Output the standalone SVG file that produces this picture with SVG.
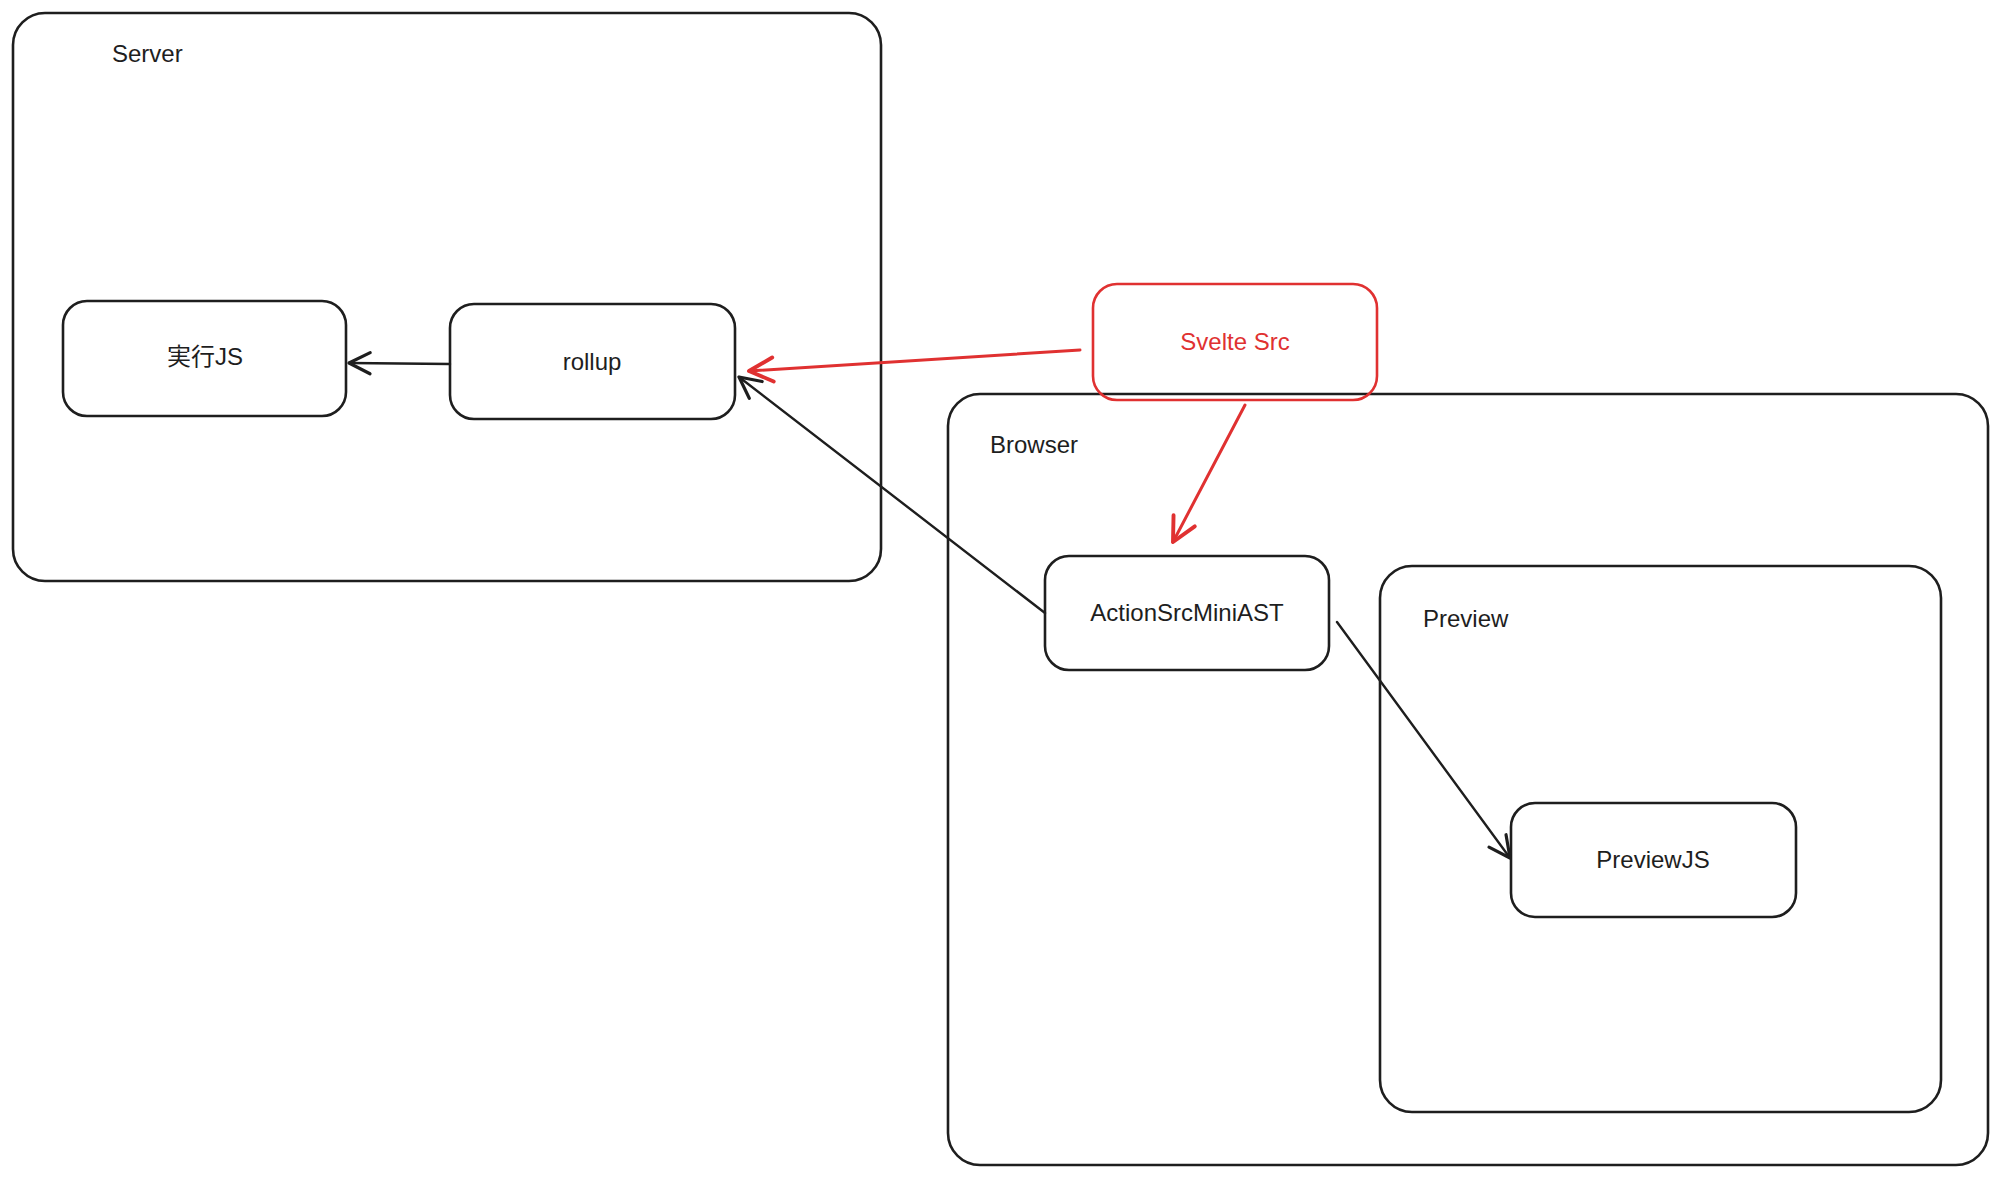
<svg xmlns="http://www.w3.org/2000/svg" width="2000" height="1177" viewBox="0 0 2000 1177">
<style>
.box{fill:none;stroke:#1e1e1e;stroke-width:2.6;stroke-linejoin:round}
.red{stroke:#e03131}
.lbl{font-family:"Liberation Sans","Noto Sans CJK JP",sans-serif;font-size:24px;fill:#1e1e1e}
.mid{text-anchor:middle;dominant-baseline:central}
.rt{fill:#e03131}
.ln{fill:none;stroke:#1e1e1e;stroke-width:2.4;stroke-linecap:round}
.lnr{stroke:#e03131;stroke-width:3}
</style>
<defs>
<marker id="ah" viewBox="0 0 20 20" refX="18" refY="10" markerWidth="11" markerHeight="11" markerUnits="strokeWidth" orient="auto">
<path d="M2,2 L18,10 L2,18" fill="none" stroke="#1e1e1e" stroke-width="2.4" stroke-linecap="round" stroke-linejoin="round"/>
</marker>
<marker id="ahr" viewBox="0 0 20 20" refX="18" refY="10" markerWidth="10" markerHeight="10" markerUnits="strokeWidth" orient="auto">
<path d="M2,2 L18,10 L2,18" fill="none" stroke="#e03131" stroke-width="2.6" stroke-linecap="round" stroke-linejoin="round"/>
</marker>
</defs>
<rect width="2000" height="1177" fill="#ffffff"/>
<g id="server">
<rect class="box" x="13" y="13" width="868" height="568" rx="32"/>
<text class="lbl" x="112" y="62">Server</text>
</g>
<g id="browser">
<rect class="box" x="948" y="394" width="1040" height="771" rx="32"/>
<text class="lbl" x="990" y="453">Browser</text>
</g>
<g id="preview">
<rect class="box" x="1380" y="566" width="561" height="546" rx="32"/>
<text class="lbl" x="1423" y="627">Preview</text>
</g>
<g id="exec">
<rect class="box" x="63" y="301" width="283" height="115" rx="24"/>
<text class="lbl mid" x="205" y="356">実行JS</text>
</g>
<g id="rollup">
<rect class="box" x="450" y="304" width="285" height="115" rx="24"/>
<text class="lbl mid" x="592" y="361">rollup</text>
</g>
<g id="svelte">
<rect class="box red" x="1093" y="284" width="284" height="116" rx="24"/>
<text class="lbl mid rt" x="1235" y="341">Svelte Src</text>
</g>
<g id="action">
<rect class="box" x="1045" y="556" width="284" height="114" rx="24"/>
<text class="lbl mid" x="1187" y="612">ActionSrcMiniAST</text>
</g>
<g id="previewjs">
<rect class="box" x="1511" y="803" width="285" height="114" rx="24"/>
<text class="lbl mid" x="1653" y="859">PreviewJS</text>
</g>
<g id="connectors">
<line class="ln" x1="450" y1="364" x2="349" y2="363" marker-end="url(#ah)"/>
<line class="ln lnr" x1="1080" y1="350" x2="749" y2="371" marker-end="url(#ahr)"/>
<line class="ln" x1="1045" y1="613" x2="739" y2="377" marker-end="url(#ah)"/>
<line class="ln lnr" x1="1245" y1="405" x2="1173" y2="542" marker-end="url(#ahr)"/>
<line class="ln" x1="1337" y1="622" x2="1510" y2="858" marker-end="url(#ah)"/>
</g>
</svg>
